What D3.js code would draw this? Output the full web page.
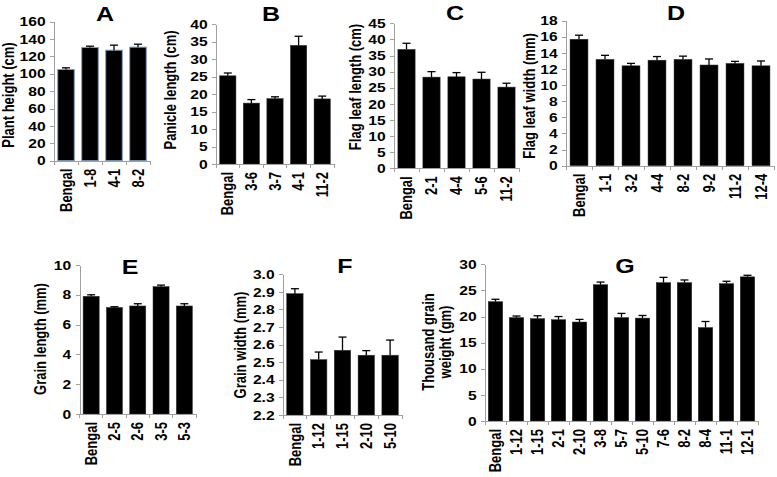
<!DOCTYPE html>
<html>
<head>
<meta charset="utf-8">
<script src="https://cdn.jsdelivr.net/npm/d3@7"></script>
<style>
	body { margin: 0; background: #fff; }
	svg text { font-family: Arial, Helvetica, sans-serif; font-weight: bold; fill: #000; }
	.axis path, .axis line { stroke: #a0a0a0; shape-rendering: crispEdges; }
</style>
</head>
<body>
<svg id="chart" width="777" height="477"></svg>
<script>
// data
var catsA = ["Bengal", "1-8", "4-1", "8-2"];
var valsA = [105, 130.3, 127.2, 130.7];
var errA = [1.9, 1.5, 5.8, 3.4];

var catsB = ["Bengal", "3-6", "3-7", "4-1", "11-2"];
var valsB = [25.2, 17.4, 18.7, 33.9, 18.6];
var errB = [0.8, 1.0, 0.5, 2.6, 0.8];

var catsC = ["Bengal", "2-1", "4-4", "5-6", "11-2"];
var valsC = [36.9, 28.3, 28.4, 27.7, 25.2];
var errC = [1.9, 1.7, 1.3, 2.1, 1.2];

var catsD = ["Bengal", "1-1", "3-2", "4-4", "8-2", "9-2", "11-2", "12-4"];
var valsD = [15.7, 13.2, 12.4, 13.1, 13.2, 12.5, 12.7, 12.4];
var errD = [0.5, 0.5, 0.3, 0.45, 0.4, 0.75, 0.25, 0.6];

var catsE = ["Bengal", "2-5", "2-6", "3-5", "5-3"];
var valsE = [7.9, 7.15, 7.25, 8.55, 7.25];
var errE = [0.1, 0.05, 0.15, 0.1, 0.15];

var catsF = ["Bengal", "1-12", "1-15", "2-10", "5-10"];
var valsF = [2.89, 2.515, 2.568, 2.54, 2.54];
var errF = [0.028, 0.043, 0.075, 0.026, 0.086];

var catsG = ["Bengal", "1-12", "1-15", "2-1", "2-10", "3-8", "5-7", "5-10", "7-6", "8-2", "8-4", "11-1", "12-1"];
var valsG = [22.85, 19.8, 19.6, 19.4, 18.95, 26.1, 19.8, 19.7, 26.5, 26.5, 17.9, 26.3, 27.6];
var errG = [0.45, 0.3, 0.55, 0.6, 0.5, 0.5, 0.8, 0.5, 1.0, 0.5, 1.15, 0.45, 0.3];

var yDomains = { A: [0, 160], B: [0, 40], C: [0, 45], D: [0, 18], E: [0, 10], F: [2.2, 3.0], G: [0, 30] };
var yStep = { A: 20, B: 5, C: 5, D: 2, E: 2, F: 0.1, G: 5 };
var yTitles = {
	A: ["Plant height (cm)"], B: ["Panicle length (cm)"], C: ["Flag leaf length (cm)"],
	D: ["Flag leaf width (mm)"], E: ["Grain length (mm)"], F: ["Grain width (mm)"],
	G: ["Thousand grain", "weight (gm)"]
};

// panel placement (pixels)
var panels = [
	{ id: "A", cats: catsA, vals: valsA, err: errA, x0: 54, x1: 150, yt: 21.7, yb: 160.7, tx: 105, ty: 21, lx: 9, ly: 95, stroke: "#7f9cc4" },
	{ id: "B", cats: catsB, vals: valsB, err: errB, x0: 216, x1: 334, yt: 24, yb: 164, tx: 271, ty: 21, lx: 171, ly: 90 },
	{ id: "C", cats: catsC, vals: valsC, err: errC, x0: 394, x1: 519, yt: 23.3, yb: 168.3, tx: 455, ty: 20, lx: 356, ly: 87 },
	{ id: "D", cats: catsD, vals: valsD, err: errD, x0: 566, x1: 774, yt: 20.7, yb: 165.7, tx: 676, ty: 20, lx: 530, ly: 96 },
	{ id: "E", cats: catsE, vals: valsE, err: errE, x0: 79.5, x1: 196, yt: 265, yb: 414, tx: 130, ty: 274, lx: 41, ly: 339 },
	{ id: "F", cats: catsF, vals: valsF, err: errF, x0: 283, x1: 402, yt: 274.3, yb: 415, tx: 345, ty: 273, lx: 241, ly: 345 },
	{ id: "G", cats: catsG, vals: valsG, err: errG, x0: 485, x1: 758, yt: 264.3, yb: 421, tx: 625, ty: 273, lx: 437, ly: 342 }
];

var SX = 1.2; // glyphs in the figure are stretched sideways

var svg = d3.select("#chart");

panels.forEach(drawPanel);

function drawPanel(p) {
	var g = svg.append("g").attr("class", "panel_" + p.id);
	var dom = yDomains[p.id];

	var x = d3.scaleBand()
		.domain(p.cats)
		.range([p.x0, p.x1])
		.paddingInner(0.31)
		.paddingOuter(0.155);
	var y = d3.scaleLinear()
		.domain(dom)
		.range([p.yb, p.yt]);

	var tickVals = d3.range(dom[0], dom[1] + yStep[p.id] / 2, yStep[p.id]);
	var fmt = p.id == "F" ? d3.format(".1f") : d3.format("d");

	// bars
	g.selectAll("rect.bar")
		.data(p.vals)
		.enter().append("rect")
		.attr("class", "bar")
		.attr("x", function(d, i) { return x(p.cats[i]); })
		.attr("y", function(d) { return y(d); })
		.attr("width", x.bandwidth())
		.attr("height", function(d) { return y(dom[0]) - y(d); })
		.attr("fill", "#000")
		.attr("stroke", p.stroke || "#333")
		.attr("stroke-width", p.stroke ? 1 : 0.5);

	// error bars (upper only)
	var eb = g.selectAll("g.err")
		.data(p.vals)
		.enter().append("g")
		.attr("class", "err")
		.attr("stroke", "#000")
		.attr("stroke-width", 1.3);
	eb.append("line")
		.attr("x1", function(d, i) { return x(p.cats[i]) + x.bandwidth() / 2; })
		.attr("x2", function(d, i) { return x(p.cats[i]) + x.bandwidth() / 2; })
		.attr("y1", function(d) { return y(d); })
		.attr("y2", function(d, i) { return y(d + p.err[i]); });
	eb.append("line")
		.attr("x1", function(d, i) { return x(p.cats[i]) + x.bandwidth() / 2 - 4; })
		.attr("x2", function(d, i) { return x(p.cats[i]) + x.bandwidth() / 2 + 4; })
		.attr("y1", function(d, i) { return y(d + p.err[i]); })
		.attr("y2", function(d, i) { return y(d + p.err[i]); });

	// y axis
	var yAxis = d3.axisLeft(y)
		.tickValues(tickVals)
		.tickFormat(fmt)
		.tickSize(4)
		.tickSizeOuter(0)
		.tickPadding(3);
	var ya = g.append("g").attr("class", "axis y-axis")
		.attr("transform", "translate(" + p.x0 + ",0)")
		.call(yAxis);
	ya.selectAll("text")
		.style("font-size", "13px")
		.attr("transform", "scale(" + SX + ",1)");

	// x axis: labels at bar centres, ticks at category boundaries
	var xAxis = d3.axisBottom(x).tickSize(0).tickSizeOuter(0);
	var xa = g.append("g").attr("class", "axis x-axis")
		.attr("transform", "translate(0," + p.yb + ")")
		.call(xAxis);
	xa.selectAll("text")
		.style("font-size", "13px")
		.style("text-anchor", "end")
		.attr("x", -8)
		.attr("y", 0)
		.attr("dy", "0.36em")
		.attr("transform", "rotate(-90) scale(1," + SX + ")");
	xa.selectAll("line.bound")
		.data(d3.range(p.cats.length + 1))
		.enter().append("line")
		.attr("class", "bound")
		.attr("x1", function(i) { return p.x0 + i * x.step(); })
		.attr("x2", function(i) { return p.x0 + i * x.step(); })
		.attr("y1", 0)
		.attr("y2", 4);

	// panel letter
	g.append("text")
		.attr("transform", "translate(" + p.tx + "," + p.ty + ") scale(1.25,1)")
		.attr("text-anchor", "middle")
		.style("font-size", "20px")
		.text(p.id);

	// y title
	var lines = yTitles[p.id];
	var yl = g.append("text")
		.attr("transform", "translate(" + p.lx + "," + p.ly + ") rotate(-90) scale(1," + SX + ")")
		.attr("text-anchor", "middle")
		.style("font-size", "13px");
	lines.forEach(function(t, k) {
		yl.append("tspan")
			.attr("x", 0)
			.attr("dy", k == 0 ? (0.35 - (lines.length - 1) * 0.55) + "em" : "1.1em")
			.text(t);
	});
}
</script>
</body>
</html>
